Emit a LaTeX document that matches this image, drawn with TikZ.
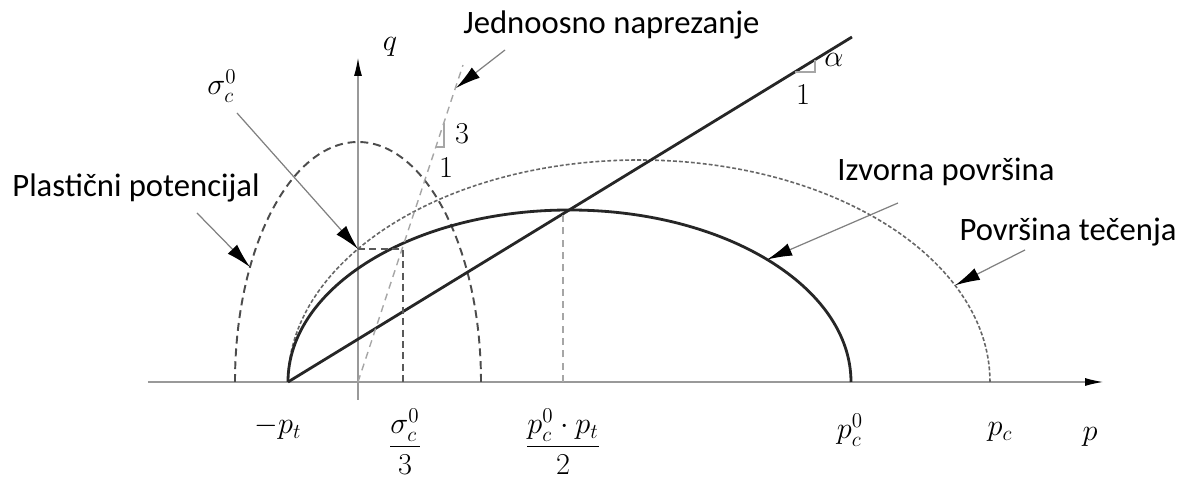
\documentclass[tikz,border=0pt]{standalone}
\usepackage{fontspec}
\setmainfont{Carlito}
\usetikzlibrary{arrows.meta}

\definecolor{axisgray}{gray}{0.6}
\definecolor{curvegray}{gray}{0.15}

\tikzset{
  >={Latex[length=5mm,width=2.6mm,color=black,fill=black]},
  axis/.style={draw=axisgray, line width=0.6pt},
  yieldline/.style={draw=curvegray, line width=1.6pt},
  potline/.style={draw=black!70, line width=1.1pt, dash pattern=on 4.5pt off 2.8pt},
  flowline/.style={draw=black!60, line width=0.9pt, dash pattern=on 2.2pt off 1.2pt},
  sigline/.style={draw=black!65, line width=0.9pt, dash pattern=on 4pt off 2.5pt},
  guide/.style={draw=black!35, line width=0.8pt, dash pattern=on 4pt off 3pt},
  slope/.style={draw=black!35, line width=0.6pt},
  pointer/.style={draw=black!50, line width=0.7pt, ->},
  lbl/.style={font=\fontsize{18.6}{22}\selectfont, inner sep=0pt},
}

\begin{document}
\begin{tikzpicture}[x=0.02cm, y=0.02cm]
  \useasboundingbox (-358,-97) rectangle (823,382);

  %% AXES
  \coordinate (pmin) at (-210,0);
  \coordinate (pmax) at (745,0);
  \coordinate (qmin) at (0,-18);
  \coordinate (qmax) at (0,324);
  \draw[axis, -{Latex[length=3.6mm,width=1.6mm,color=black,fill=black]}] (pmin) -- (pmax);
  \draw[axis, -{Latex[length=3.6mm,width=1.6mm,color=black,fill=black]}] (qmin) -- (qmax);
  \node[lbl] (q) at (32,335) {$q$};
  \node[lbl] (p) at (732,-55) {$p$};

  %% SURFACES
  % plasticni potencijal
  \draw[potline] (-123,0) arc[start angle=180, end angle=0, x radius=123, y radius=240];
  % povrsina tecenja
  \draw[flowline] (-70,0) arc[start angle=180, end angle=0, x radius=351, y radius=222];
  % izvorna povrsina
  \draw[yieldline] (-70,0) arc[start angle=180, end angle=0, x radius=281.5, y radius=172];

  %% LINES
  % linija kriticnog stanja
  \coordinate (cslA) at (-70,0);
  \coordinate (cslB) at (494,345);
  \draw[yieldline] (cslA) -- (cslB);
  \draw[slope] (437,310) -- (457,310) -- (457,322);
  \node[lbl] (alpha) at (476,322) {$\alpha$};
  \node[lbl] (one) at (445,287) {$1$};

  % jednoosno naprezanje
  \coordinate (uniA) at (0,0);
  \coordinate (uniB) at (105,317);
  \draw[guide] (uniA) -- (uniB);
  \draw[slope] (78,235) -- (86,235) -- (86,259);
  \node[lbl] (three) at (104,248) {$3$};
  \node[lbl] (oneu) at (88,214) {$1$};

  % pomocne linije
  \coordinate (sc) at (0,133);
  \draw[sigline] (sc) -- (45,133) -- (45,0);
  \draw[guide] (205,0) -- (205,168);

  %% LABELS
  \node[lbl] (pt) at (-80,-46) {$-p_t$};
  \node[lbl] (sc3) at (47,-60) {$\displaystyle\frac{\sigma_c^0}{3}$};
  \node[lbl] (pmid) at (205,-60) {$\displaystyle\frac{p_c^0\cdot p_t}{2}$};
  \node[lbl] (pc0) at (492,-48) {$p_c^0$};
  \node[lbl] (pc) at (642,-50) {$p_c$};

  \node[lbl] (sig) at (-136,296) {$\sigma_c^0$};
  \node[lbl] (plast) at (-222,194) {Plastični potencijal};
  \node[lbl, anchor=west] (jedn) at (105,357) {Jednoosno naprezanje};
  \node[lbl] (izv) at (588,210) {Izvorna površina};
  \node[lbl] (tec) at (710,150) {Površina tečenja};

  %% ARROWS
  \coordinate (sigS) at (-121,269);
  \coordinate (plastS) at (-161,169);
  \coordinate (plastT) at ({123*cos(151.4)},{240*sin(151.4)});
  \coordinate (jednS) at (147,332);
  \coordinate (jednT) at (98,294);
  \coordinate (izvS) at (540,179);
  \coordinate (izvT) at ({211.5+281.5*cos(45.4)},{172*sin(45.4)});
  \coordinate (tecS) at (667,132);
  \coordinate (tecT) at ({281+351*cos(25.8)},{222*sin(25.8)});
  \draw[pointer] (sigS) -- (sc);
  \draw[pointer] (plastS) -- (plastT);
  \draw[pointer] (jednS) -- (jednT);
  \draw[pointer] (izvS) -- (izvT);
  \draw[pointer] (tecS) -- (tecT);
\end{tikzpicture}
\end{document}
